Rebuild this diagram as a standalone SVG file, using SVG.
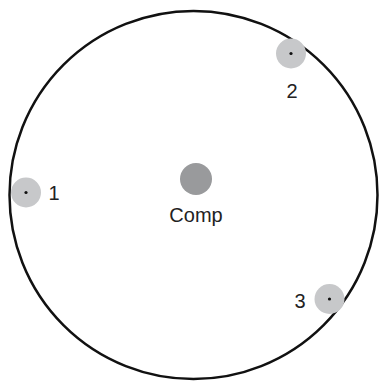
<svg xmlns="http://www.w3.org/2000/svg" width="379" height="381" viewBox="0 0 379 381">
<style>
.node{fill:#c7c8ca}
.dot{fill:#111}
.lbl{font-family:"Liberation Sans",Arial,sans-serif;font-size:20px;fill:#222}
</style>
<rect width="379" height="381" fill="#fff"/>
<g id="boundary"><circle cx="193.5" cy="195" r="184" fill="none" stroke="#111" stroke-width="2.5"/></g>
<g id="connectors"></g>
<g id="comp"><circle cx="196" cy="179" r="16" fill="#999a9c"/><text class="lbl" x="196" y="221.5" text-anchor="middle">Comp</text></g>
<g id="n1"><circle class="node" cx="26" cy="192.5" r="15"/><circle class="dot" cx="26" cy="192.5" r="1.6"/><text class="lbl" x="48.5" y="200">1</text></g>
<g id="n2"><circle class="node" cx="291" cy="53.5" r="15"/><circle class="dot" cx="291" cy="53.5" r="1.6"/><text class="lbl" x="292" y="97.5" text-anchor="middle">2</text></g>
<g id="n3"><circle class="node" cx="329.5" cy="299" r="15"/><circle class="dot" cx="329.5" cy="299" r="1.6"/><text class="lbl" x="300" y="307.5" text-anchor="middle">3</text></g>
</svg>
